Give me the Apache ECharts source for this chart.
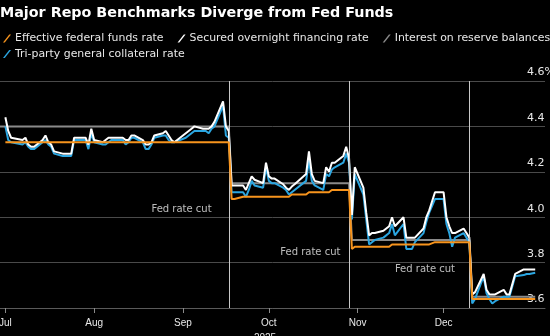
<!DOCTYPE html>
<html>
<head>
<meta charset="utf-8">
<script src="https://cdn.jsdelivr.net/npm/echarts@6/dist/echarts.min.js"></script>
<style>
html,body{margin:0;padding:0;background:#000;}
#chart{width:550px;height:336px;}
</style>
</head>
<body>
<div id="chart"></div>
<script>
// ---- data ----
const titleText = 'Major Repo Benchmarks Diverge from Fed Funds';
const seriesNames = ['Effective federal funds rate', 'Secured overnight financing rate', 'Interest on reserve balances', 'Tri-party general collateral rate'];
const dates = ['2025-06-27',
'2025-07-01','2025-07-02','2025-07-03','2025-07-07','2025-07-08','2025-07-09','2025-07-10','2025-07-11',
'2025-07-14','2025-07-15','2025-07-16','2025-07-17','2025-07-18','2025-07-21','2025-07-22','2025-07-23','2025-07-24','2025-07-25',
'2025-07-28','2025-07-29','2025-07-30','2025-07-31','2025-08-01','2025-08-04','2025-08-05','2025-08-06','2025-08-07','2025-08-08',
'2025-08-11','2025-08-12','2025-08-13','2025-08-14','2025-08-15','2025-08-18','2025-08-19','2025-08-20','2025-08-21','2025-08-22',
'2025-08-25','2025-08-26','2025-08-27','2025-08-28','2025-08-29','2025-09-02','2025-09-03','2025-09-04','2025-09-05',
'2025-09-08','2025-09-09','2025-09-10','2025-09-11','2025-09-12','2025-09-15','2025-09-16','2025-09-17','2025-09-18','2025-09-19',
'2025-09-22','2025-09-23','2025-09-24','2025-09-25','2025-09-26','2025-09-29','2025-09-30','2025-10-01','2025-10-02','2025-10-03',
'2025-10-06','2025-10-07','2025-10-08','2025-10-09','2025-10-10','2025-10-14','2025-10-15','2025-10-16','2025-10-17',
'2025-10-20','2025-10-21','2025-10-22','2025-10-23','2025-10-24','2025-10-27','2025-10-28','2025-10-29','2025-10-30','2025-10-31',
'2025-11-03','2025-11-04','2025-11-05','2025-11-06','2025-11-07','2025-11-10','2025-11-12','2025-11-13','2025-11-14',
'2025-11-17','2025-11-18','2025-11-19','2025-11-20','2025-11-21','2025-11-24','2025-11-25','2025-11-26','2025-11-28',
'2025-12-01','2025-12-02','2025-12-03','2025-12-04','2025-12-05','2025-12-08','2025-12-09','2025-12-10','2025-12-11','2025-12-12',
'2025-12-15','2025-12-16','2025-12-17','2025-12-18','2025-12-19','2025-12-22','2025-12-23','2025-12-24','2025-12-26',
'2025-12-29','2025-12-30','2025-12-31','2026-01-02'];
const effr = [null,
4.33,4.33,4.33,4.33,4.33,4.33,4.33,4.33,
4.33,4.33,4.33,4.33,4.33,4.33,4.33,4.33,4.33,4.33,
4.33,4.33,4.33,4.33,4.33,4.33,4.33,4.33,4.33,4.33,
4.33,4.33,4.33,4.33,4.33,4.33,4.33,4.33,4.33,4.33,
4.33,4.33,4.33,4.33,4.33,4.33,4.33,4.33,4.33,
4.33,4.33,4.33,4.33,4.33,4.33,4.33,4.33,4.08,4.08,
4.09,4.09,4.09,4.09,4.09,4.09,4.09,4.09,4.09,4.09,
4.09,4.09,4.09,4.10,4.10,4.10,4.11,4.11,4.11,
4.11,4.11,4.11,4.12,4.12,4.12,4.12,4.12,3.86,3.87,
3.87,3.87,3.87,3.87,3.87,3.87,3.87,3.88,3.88,
3.88,3.88,3.88,3.88,3.88,3.88,3.88,3.88,3.89,
3.89,3.89,3.89,3.89,3.89,3.89,3.89,3.89,3.64,3.64,
3.64,3.64,3.64,3.64,3.64,3.64,3.64,3.64,3.64,
3.64,3.64,3.64,3.64];
const sofr = [null,
4.44,4.38,4.35,4.34,4.35,4.32,4.31,4.31,
4.34,4.36,4.33,4.32,4.29,4.28,4.28,4.28,4.28,4.35,
4.35,4.35,4.32,4.39,4.34,4.33,4.34,4.35,4.35,4.35,
4.35,4.34,4.34,4.36,4.36,4.34,4.32,4.32,4.33,4.36,
4.37,4.38,4.36,4.34,4.33,4.37,4.38,4.39,4.40,
4.39,4.39,4.39,4.40,4.42,4.51,4.40,4.38,4.14,4.14,
4.14,4.12,4.15,4.18,4.165,4.15,4.24,4.18,4.17,4.17,
4.145,4.13,4.12,4.135,4.145,4.19,4.29,4.19,4.16,
4.15,4.22,4.20,4.24,4.24,4.27,4.31,4.26,4.01,4.22,
4.13,4.02,3.92,3.93,3.93,3.94,3.96,4.00,3.96,
4.00,3.91,3.91,3.91,3.91,3.95,4.00,4.03,4.11,
4.11,4.00,3.96,3.93,3.93,3.95,3.93,3.91,3.66,3.67,
3.75,3.68,3.66,3.66,3.66,3.68,3.66,3.66,3.75,
3.77,3.77,3.77,3.77];
const tgcr = [null,
4.40,4.34,4.33,4.32,4.33,4.31,4.30,4.30,
4.33,4.34,4.32,4.31,4.28,4.27,4.27,4.27,4.27,4.34,
4.34,4.34,4.30,4.37,4.33,4.32,4.32,4.33,4.34,4.34,
4.34,4.32,4.33,4.35,4.35,4.33,4.30,4.30,4.32,4.35,
4.36,4.36,4.34,4.33,4.33,4.35,4.36,4.37,4.38,
4.38,4.38,4.37,4.39,4.40,4.49,4.36,4.35,4.11,4.11,
4.11,4.09,4.12,4.16,4.14,4.13,4.22,4.16,4.15,4.15,
4.13,4.12,4.10,4.11,4.12,4.16,4.25,4.16,4.14,
4.12,4.19,4.18,4.21,4.22,4.24,4.28,4.24,3.99,4.19,
4.10,3.99,3.88,3.89,3.90,3.91,3.93,3.97,3.92,
3.97,3.86,3.86,3.86,3.89,3.93,3.98,4.02,4.08,
4.08,3.97,3.93,3.87,3.91,3.93,3.91,3.89,3.62,3.64,
3.74,3.665,3.64,3.62,3.63,3.65,3.65,3.65,3.74,
3.745,3.75,3.75,3.755];
const iorb = [4.40,
4.40,4.40,4.40,4.40,4.40,4.40,4.40,4.40,
4.40,4.40,4.40,4.40,4.40,4.40,4.40,4.40,4.40,4.40,
4.40,4.40,4.40,4.40,4.40,4.40,4.40,4.40,4.40,4.40,
4.40,4.40,4.40,4.40,4.40,4.40,4.40,4.40,4.40,4.40,
4.40,4.40,4.40,4.40,4.40,4.40,4.40,4.40,4.40,
4.40,4.40,4.40,4.40,4.40,4.40,4.40,4.40,4.15,4.15,
4.15,4.15,4.15,4.15,4.15,4.15,4.15,4.15,4.15,4.15,
4.15,4.15,4.15,4.15,4.15,4.15,4.15,4.15,4.15,
4.15,4.15,4.15,4.15,4.15,4.15,4.15,4.15,3.90,3.90,
3.90,3.90,3.90,3.90,3.90,3.90,3.90,3.90,3.90,
3.90,3.90,3.90,3.90,3.90,3.90,3.90,3.90,3.90,
3.90,3.90,3.90,3.90,3.90,3.90,3.90,3.90,3.65,3.65,
3.65,3.65,3.65,3.65,3.65,3.65,3.65,3.65,3.65,
3.65,3.65,3.65,3.65];
const cutDates = ['2025-09-17', '2025-10-29', '2025-12-10'];
const cutLabelDates = ['2025-09-11', '2025-10-26', '2025-12-05'];
const cutLabelValues = [4.036, 3.847, 3.772];
const cutLabel = 'Fed rate cut';
const monthTickDates = ['2025-07-01', '2025-08-01', '2025-09-01', '2025-10-01', '2025-11-01', '2025-12-01'];
const monthTickLabels = ['Jul', 'Aug', 'Sep', 'Oct', 'Nov', 'Dec'];
const yearLabel = '2025';
const yMin = 3.6, yMax = 4.6, yStep = 0.2;
const xMinDate = '2025-06-29T03:00:00', xMaxDate = '2026-01-05T10:00:00';

// ---- helpers ----
function ts(s) {
  const p = s.split(/[-T:]/).map(Number);
  return new Date(p[0], p[1] - 1, p[2], p[3] || 0, p[4] || 0, p[5] || 0).getTime();
}
const xs = dates.map(ts);
const pair = arr => xs.map((x, i) => [x, arr[i]]);
const tickVals = monthTickDates.map(ts);

const FONT = 'DejaVu Sans';
const FONT2 = 'Liberation Sans';
const TXT = '#e8e8e8';
const colors = ['#f7941d', '#ffffff', '#8a8a8a', '#2ba6e1'];
const slash = 'path://M0,10 L2.2,10 L10,0 L7.8,0 Z';

const chart = echarts.init(document.getElementById('chart'), null, {renderer: 'canvas'});
const legendCommon = {
  left: -2, width: 620, icon: slash, itemWidth: 8, itemHeight: 10, itemGap: 14,
  textStyle: {color: TXT, fontSize: 10.9, fontFamily: FONT, padding: [0, 0, 0, -1]},
  selectedMode: false
};
chart.setOption({
  backgroundColor: '#000',
  animation: false,
  title: {
    text: titleText, left: -5, top: 1,
    textStyle: {color: '#fff', fontSize: 14.3, fontWeight: 'bold', fontFamily: FONT}
  },
  legend: [
    Object.assign({}, legendCommon, {top: 28, data: [seriesNames[0], seriesNames[1], seriesNames[2]]}),
    Object.assign({}, legendCommon, {top: 43.5, data: [seriesNames[3]]})
  ],
  grid: {left: 0, right: 5, top: 81, bottom: 28, containLabel: false, outerBoundsMode: 'none'},
  xAxis: {
    type: 'value', min: ts(xMinDate), max: ts(xMaxDate), scale: true,
    name: yearLabel, nameLocation: 'middle', nameGap: 22,
    nameTextStyle: {color: TXT, fontSize: 10, fontFamily: FONT2, verticalAlign: 'top', padding: [0, 15, 0, 0]},
    axisLine: {show: true, lineStyle: {color: '#5a5a5a', width: 1}},
    axisTick: {show: true, length: 5, lineStyle: {color: '#8a8a8a'}, customValues: tickVals},
    axisLabel: {
      color: TXT, fontSize: 10, fontFamily: FONT2, margin: 10,
      customValues: tickVals, showMinLabel: true, showMaxLabel: true, hideOverlap: false,
      formatter: v => { const i = tickVals.indexOf(v); return i >= 0 ? monthTickLabels[i] : ''; }
    },
    splitLine: {show: false}
  },
  yAxis: {
    type: 'value', position: 'right', min: yMin, max: yMax, interval: yStep,
    axisLine: {show: false}, axisTick: {show: false},
    splitLine: {show: true, lineStyle: {color: '#4a4a4a', width: 1}},
    axisLabel: {
      inside: true, margin: 18, align: 'left', verticalAlign: 'bottom',
      color: TXT, fontSize: 11, fontFamily: FONT, padding: [0, 0, 3, 0],
      formatter: v => Math.abs(v - yMax) < 1e-9 ? v.toFixed(1) + '%' : v.toFixed(1)
    }
  },
  series: [
    {
      name: seriesNames[2], type: 'line', data: pair(iorb), showSymbol: false, symbol: 'none',
      lineStyle: {color: colors[2], width: 2}, itemStyle: {color: colors[2]}, z: 2,
      markLine: {
        silent: true, symbol: 'none', label: {show: false},
        lineStyle: {color: '#c8c8c8', width: 1, type: 'solid'},
        data: cutDates.map(d => ({xAxis: ts(d)}))
      }
    },
    {
      name: seriesNames[3], type: 'line', data: pair(tgcr), showSymbol: false, symbol: 'none',
      lineStyle: {color: colors[3], width: 2}, itemStyle: {color: colors[3]}, z: 3
    },
    {
      name: seriesNames[1], type: 'line', data: pair(sofr), showSymbol: false, symbol: 'none',
      lineStyle: {color: colors[1], width: 2}, itemStyle: {color: colors[1]}, z: 4
    },
    {
      name: seriesNames[0], type: 'line', data: pair(effr), showSymbol: false, symbol: 'none',
      lineStyle: {color: colors[0], width: 2}, itemStyle: {color: colors[0]}, z: 5
    },
    {
      name: 'annotations', type: 'scatter', symbolSize: 0, silent: true, z: 6,
      data: cutLabelDates.map((d, i) => [ts(d), cutLabelValues[i]]),
      label: {show: true, position: 'left', distance: 0, formatter: cutLabel,
        color: TXT, fontSize: 10, fontFamily: FONT}
    }
  ]
});
</script>
</body>
</html>
